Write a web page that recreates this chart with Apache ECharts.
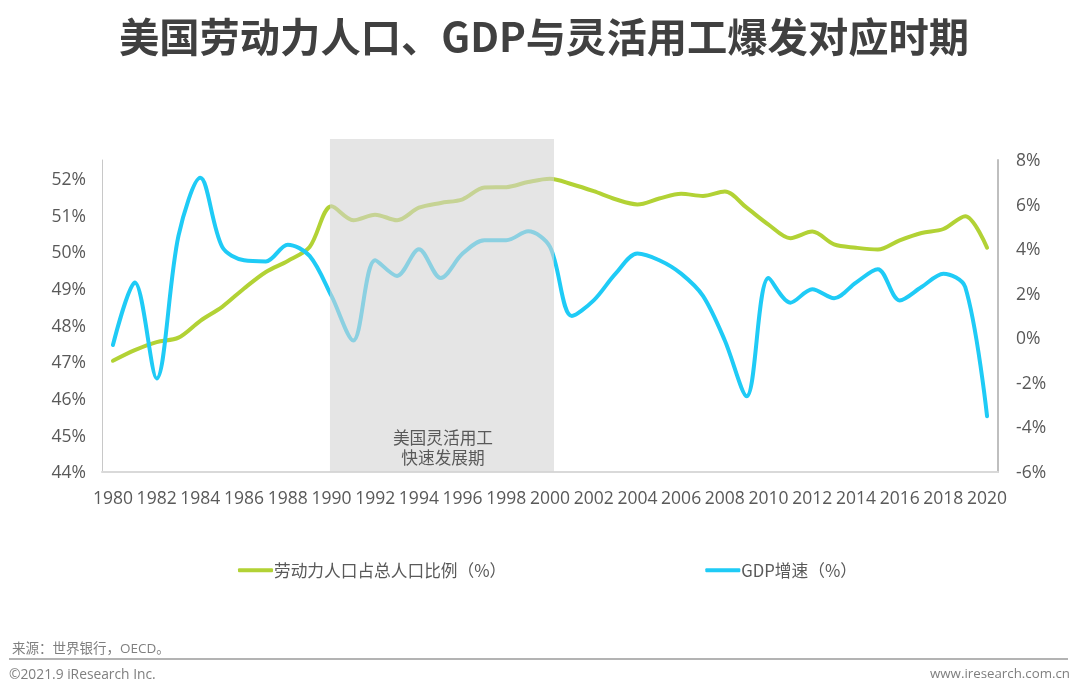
<!DOCTYPE html>
<html>
<head>
<meta charset="utf-8">
<style>html,body{margin:0;padding:0;background:#fff}#main{width:1080px;height:693px}</style>
<script src="https://cdn.jsdelivr.net/npm/echarts@6/dist/echarts.min.js"></script>
</head>
<body>
<div id="main"></div>
<script>
var years = [];
for (var y = 1980; y <= 2020; y++) years.push(String(y));

var labor = [47.03,47.32,47.54,47.66,48.12,48.5,49.0,49.45,49.75,50.13,51.24,50.86,51.01,50.86,51.2,51.33,51.43,51.75,51.76,51.9,51.99,
    51.84,51.65,51.43,51.29,51.45,51.58,51.52,51.64,51.2,50.74,50.37,50.55,50.2,50.11,50.06,50.31,50.51,50.62,50.97,50.11];
var gdp = [-0.3,2.5,-1.8,4.6,7.2,4.1,3.5,3.45,4.2,3.7,1.9,-0.1,3.5,2.8,4.0,2.7,3.8,4.4,4.4,4.8,4.1,
    1.0,1.7,2.9,3.8,3.5,2.9,1.9,-0.1,-2.6,2.7,1.6,2.2,1.8,2.5,3.1,1.7,2.3,2.9,2.3,-3.5];
var band = ['1990', '2000'];

var laborName = '劳动力人口占总人口比例（%）';
var gdpName = 'GDP增速（%）';
var cjk = '"Noto Sans CJK SC", sans-serif';
var latin = '"Open Sans", "Noto Sans CJK SC", sans-serif';
var grey = '#595959';

var chart = echarts.init(document.getElementById('main'));

var option = {
    animation: false,
    title: [
        {text: '美国劳动力人口、GDP与灵活用工爆发对应时期', left: 539, top: 12, textAlign: 'center',
            textStyle: {fontFamily: cjk, fontSize: 40.3, fontWeight: 'bold', color: '#404040'}},
        {text: '来源：世界银行，OECD。', left: 7, top: 637,
            textStyle: {fontFamily: latin, fontSize: 13.5, fontWeight: 'normal', color: '#7f7f7f'}},
        {text: '©2021.9 iResearch Inc.', left: 4, top: 663,
            textStyle: {fontFamily: latin, fontSize: 13.8, fontWeight: 'normal', color: '#7f7f7f'}},
        {text: 'www.iresearch.com.cn', right: 5, top: 663,
            textStyle: {fontFamily: latin, fontSize: 13.3, fontWeight: 'normal', color: '#7f7f7f'}}
    ],
    graphic: [{type: 'rect', shape: {x: 9, y: 658, width: 1059, height: 2}, style: {fill: '#b3b3b3'}}],
    legend: {
        left: 233, top: 557, itemWidth: 35, itemHeight: 4, itemGap: 199, icon: 'roundRect',
        data: [laborName, gdpName],
        textStyle: {fontFamily: cjk, fontSize: 16.7, color: grey, padding: [0, 0, 0, -4]}
    },
    grid: {left: 102, right: 82, top: 160, bottom: 221},
    xAxis: {
        type: 'category', data: years,
        axisTick: {show: false},
        axisLine: {onZero: false, lineStyle: {color: '#d9d9d9', width: 2}},
        axisLabel: {interval: 1, margin: 18, fontFamily: latin, fontSize: 17.5, color: grey}
    },
    yAxis: [
        // lineHeight + top align nudges the labels down a little
        {type: 'value', min: 44, max: 52.5, interval: 1, splitLine: {show: false}, axisTick: {show: false},
            axisLine: {show: true, lineStyle: {color: '#c8c8c8', width: 1}},
            axisLabel: {margin: 16, verticalAlign: 'top', lineHeight: 3, fontFamily: latin, fontSize: 17.5, color: grey,
                formatter: function (v) { return v % 1 === 0 ? v + '%' : ''; }}},
        {type: 'value', min: -6, max: 8, interval: 2, splitLine: {show: false}, axisTick: {show: false},
            axisLine: {show: true, lineStyle: {color: '#bfbfbf', width: 2}},
            axisLabel: {margin: 18, verticalAlign: 'top', lineHeight: 2, fontFamily: latin, fontSize: 17.5, color: grey, formatter: '{value}%'}}
    ],
    series: [
        {name: laborName, type: 'line', data: labor, yAxisIndex: 0, smooth: 0.32, symbol: 'none', z: 3,
            lineStyle: {color: '#b2d235', width: 4, cap: 'round'}, itemStyle: {color: '#b2d235'}},
        {name: gdpName, type: 'line', data: gdp, yAxisIndex: 1, smooth: 0.32, symbol: 'none', z: 4,
            lineStyle: {color: '#1fcbf6', width: 4, cap: 'round'}, itemStyle: {color: '#1fcbf6'}},
        {
            type: 'custom', z: 10, silent: true, data: [band], encode: {x: [0, 1]},
            renderItem: function (params, api) {
                var x0 = api.coord([years.indexOf(band[0]), 0])[0] - 1.5;
                var x1 = api.coord([years.indexOf(band[1]), 0])[0] + 4;
                var top = params.coordSys.y - 21;
                var bottom = params.coordSys.y + params.coordSys.height;
                return {type: 'group', children: [
                    {type: 'rect', shape: {x: x0, y: top, width: x1 - x0, height: bottom - top},
                        style: {fill: 'rgba(212,212,212,0.6)'}},
                    {type: 'text', style: {x: (x0 + x1) / 2 + 1, y: bottom - 24, text: '美国灵活用工\n快速发展期',
                        fontFamily: cjk, fontSize: 16.7, lineHeight: 20, fill: grey, align: 'center', verticalAlign: 'middle'}}
                ]};
            }
        }
    ]
};

chart.setOption(option);
window.onresize = chart.resize;
</script>
</body>
</html>
